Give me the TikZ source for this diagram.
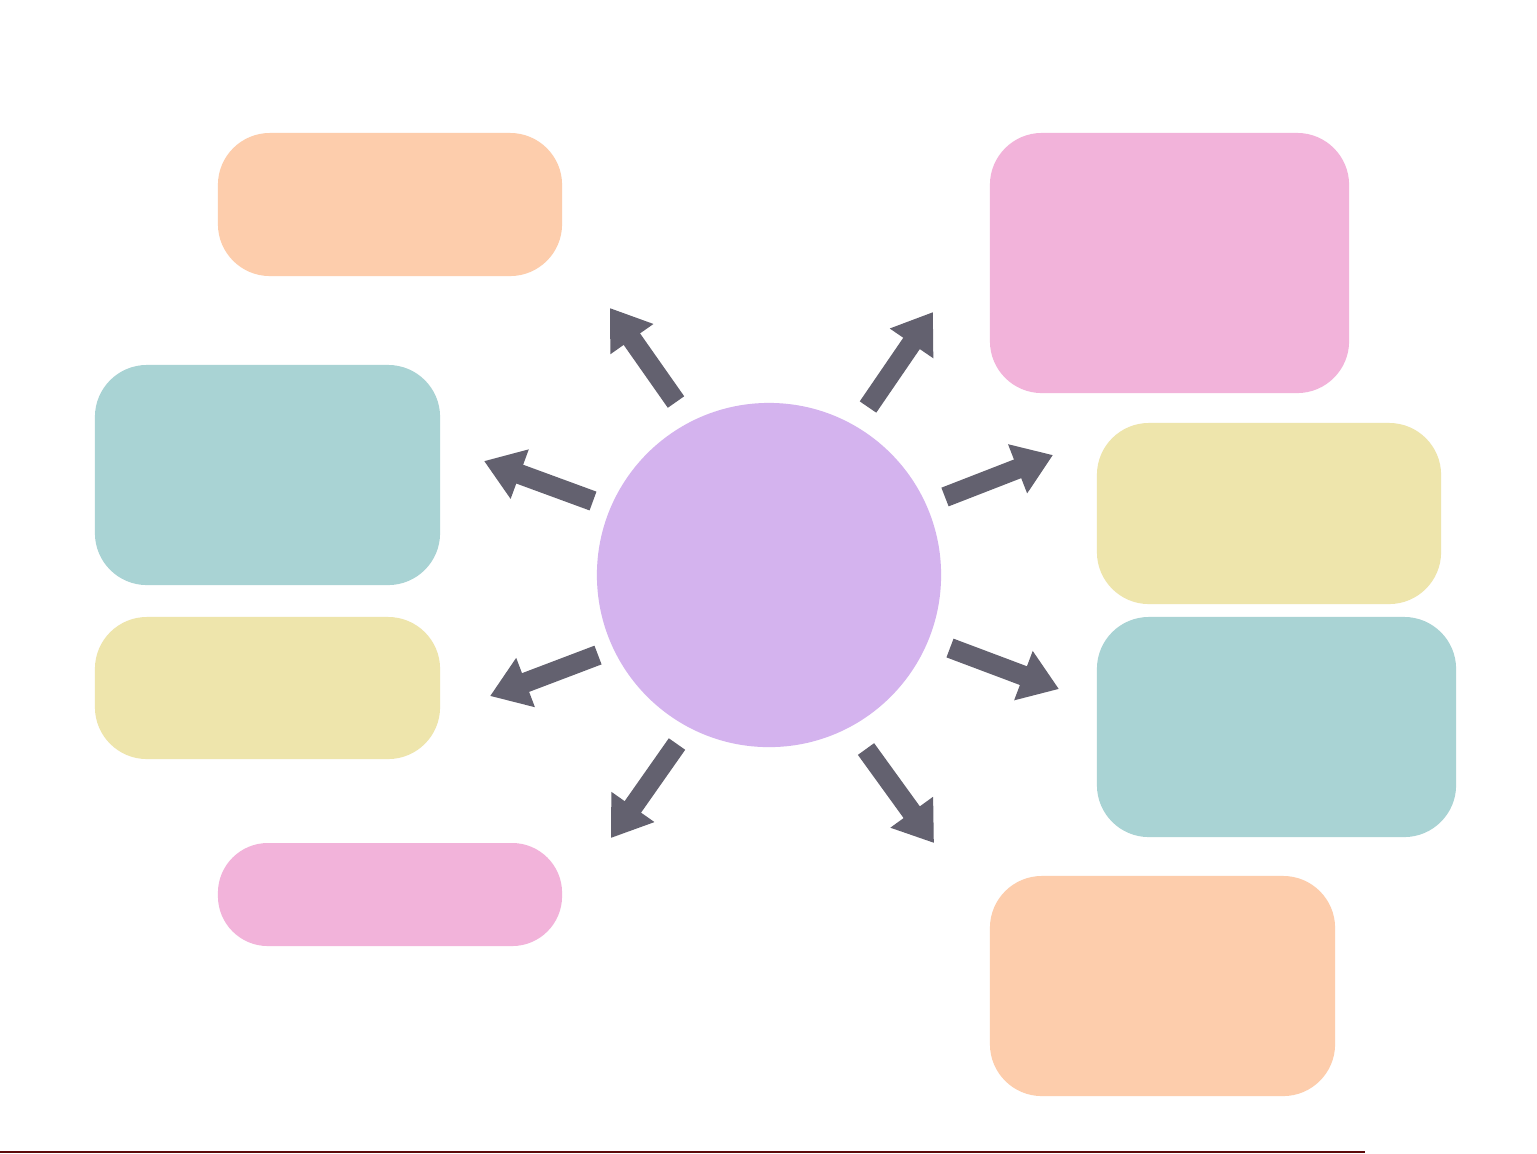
\documentclass[tikz,border=0pt]{standalone}
\usetikzlibrary{arrows.meta}
\definecolor{cOrange}{HTML}{FDCDAC}
\definecolor{cTeal}{HTML}{A9D3D4}
\definecolor{cYellow}{HTML}{EEE5AC}
\definecolor{cPink}{HTML}{F2B3DA}
\definecolor{cPurple}{HTML}{D4B3EE}
\definecolor{cArrow}{HTML}{63616F}
\definecolor{cLine}{HTML}{5C0A0A}
\tikzset{
  box/.style={rectangle, rounded corners=0.52cm, draw=none, inner sep=0pt},
  spoke/.style={draw=cArrow, line width=0.2cm, line cap=butt,
    -{Triangle[width=0.5cm,length=0.38cm]}},
}
\begin{document}
\begin{tikzpicture}[x=0.01cm,y=-0.01cm]
\useasboundingbox[fill=white] (0,0) rectangle (1537,1153);
% left boxes
\node[box, fill=cOrange, minimum width=3.44cm, minimum height=1.43cm] (bl1) at (390,204.5) {};
\node[box, fill=cTeal, minimum width=3.45cm, minimum height=2.20cm] (bl2) at (267.5,475) {};
\node[box, fill=cYellow, minimum width=3.45cm, minimum height=1.42cm] (bl3) at (267.5,688) {};
\node[box, fill=cPink, minimum width=3.44cm, minimum height=1.03cm, rounded corners=0.5cm] (bl4) at (390,894.5) {};
% right boxes
\node[box, fill=cPink, minimum width=3.59cm, minimum height=2.60cm] (br1) at (1169.5,263) {};
\node[box, fill=cYellow, minimum width=3.44cm, minimum height=1.81cm] (br2) at (1269,513.5) {};
\node[box, fill=cTeal, minimum width=3.59cm, minimum height=2.20cm] (br3) at (1276.5,727) {};
\node[box, fill=cOrange, minimum width=3.45cm, minimum height=2.20cm] (br4) at (1162.5,986) {};
% centre
\node[circle, fill=cPurple, minimum size=3.44cm, inner sep=0pt] (hub) at (769,575) {};
% arrow end points
\coordinate (t1) at (676,402); \coordinate (h1) at (610,308);
\coordinate (t2) at (868,407); \coordinate (h2) at (933,312);
\coordinate (t3) at (593,501); \coordinate (h3) at (484,461);
\coordinate (t4) at (945,497); \coordinate (h4) at (1053,455);
\coordinate (t5) at (598,655); \coordinate (h5) at (490,696);
\coordinate (t6) at (950,648); \coordinate (h6) at (1059,689);
\coordinate (t7) at (677,744); \coordinate (h7) at (611,838);
\coordinate (t8) at (866,749); \coordinate (h8) at (934,843);
\foreach \i in {1,...,8} { \draw[spoke] (t\i) -- (h\i); }
% bottom rule
\coordinate (r0) at (0,1151.5); \coordinate (r1) at (1365,1151.5);
\draw[cLine, line width=0.02cm] (r0) -- (r1);
\end{tikzpicture}
\end{document}
